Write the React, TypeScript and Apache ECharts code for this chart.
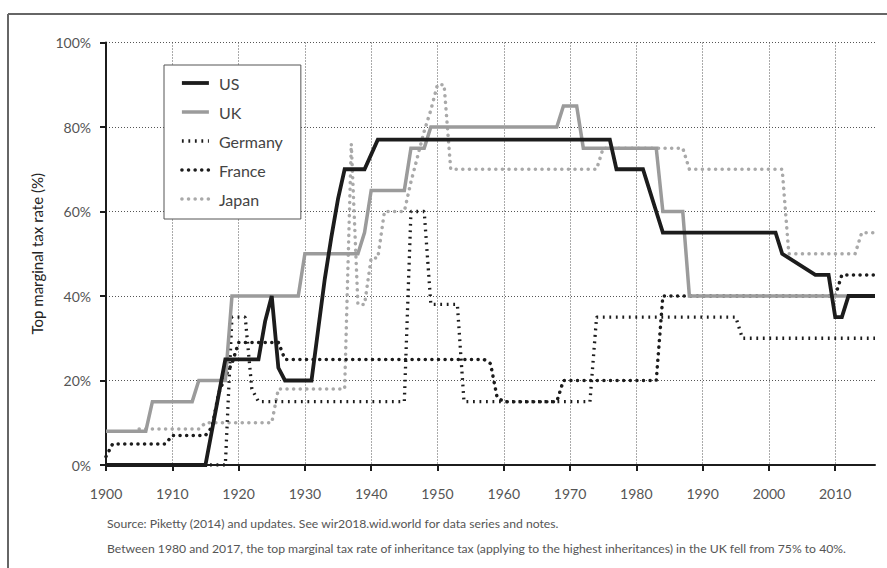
import React, { useEffect, useRef } from "react";
import * as echarts from "echarts";

// ---- Data ----
const seriesNames = ["US", "UK", "Germany", "France", "Japan"];

const usData: [number, number][] = [
  [1900, 0], [1915, 0], [1918, 25], [1923, 25], [1924, 34], [1925, 40], [1926, 23], [1927, 20],
  [1931, 20], [1932, 32], [1933, 44], [1934, 54], [1935, 63], [1936, 70], [1939, 70], [1941, 77],
  [1976, 77], [1977, 70], [1981, 70], [1982, 65], [1983, 60], [1984, 55], [2001, 55], [2002, 50],
  [2007, 45], [2009, 45], [2010, 35], [2011, 35], [2012, 40], [2016, 40],
];

const ukData: [number, number][] = [
  [1900, 8], [1906, 8], [1907, 15], [1913, 15], [1914, 20], [1918, 20], [1919, 40], [1929, 40],
  [1930, 50], [1938, 50], [1939, 55], [1940, 65], [1945, 65], [1946, 75], [1948, 75], [1949, 80],
  [1968, 80], [1969, 85], [1971, 85], [1972, 75], [1983, 75], [1984, 60], [1987, 60], [1988, 40],
  [2016, 40],
];

const germanyData: [number, number][] = [
  [1900, 0], [1918, 0], [1919, 35], [1921, 35], [1922, 18], [1923, 15], [1945, 15], [1946, 60],
  [1948, 60], [1949, 38], [1953, 38], [1954, 15], [1973, 15], [1974, 35], [1995, 35], [1996, 30],
  [2016, 30],
];

const franceData: [number, number][] = [
  [1900, 2], [1901, 5], [1909, 5], [1910, 7], [1915, 7], [1916, 9], [1917, 17], [1918, 21],
  [1919, 24], [1920, 29], [1926, 29], [1927, 25], [1957, 25], [1958, 24], [1959, 16], [1960, 15],
  [1968, 15], [1969, 20], [1983, 20], [1984, 40], [2010, 40], [2011, 45], [2016, 45],
];

const japanData: [number, number][] = [
  [1905, 8.5], [1914, 8.5], [1915, 10], [1925, 10], [1926, 18], [1936, 18], [1937, 76], [1938, 38],
  [1939, 38], [1940, 49], [1941, 49], [1942, 60], [1945, 60], [1946, 67], [1947, 73], [1948, 79],
  [1949, 84], [1950, 90], [1951, 90], [1952, 70], [1974, 70], [1975, 75], [1987, 75], [1988, 70],
  [2002, 70], [2003, 50], [2013, 50], [2014, 55], [2016, 55],
];

const xTickValues = [1900, 1910, 1920, 1930, 1940, 1950, 1960, 1970, 1980, 1990, 2000, 2010];
const yAxisTitle = "Top marginal tax rate (%)";
const sourceLine1 = "Source: Piketty (2014) and updates. See wir2018.wid.world for data series and notes.";
const sourceLine2 =
  "Between 1980 and 2017, the top marginal tax rate of inheritance tax (applying to the highest inheritances) in the UK fell from 75% to 40%.";

const FONT = "Lato, 'Open Sans', sans-serif";
const BLACK = "#1c1c1c";
const GRAY = "#9b9b9b";
const LIGHTGRAY = "#a9a9a9";

export default function App() {
  const ref = useRef<HTMLDivElement>(null);

  useEffect(() => {
    if (!ref.current) return;
    const chart = echarts.init(ref.current, null, { renderer: "svg" });

    const dotted = { type: [0.1, 6.5], cap: "round", join: "round", width: 3.5 };

    const option: any = {
      animation: false,
      backgroundColor: "#fff",
      textStyle: { fontFamily: FONT },
      grid: { left: 106, right: 12, top: 42.5, bottom: 103, containLabel: false },
      legend: {
        data: seriesNames,
        orient: "vertical",
        left: 164,
        top: 65,
        padding: [10, 18, 12, 16],
        itemWidth: 27,
        itemHeight: 14,
        itemGap: 13,
        borderColor: "#555",
        borderWidth: 1,
        backgroundColor: "#fff",
        lineStyle: { width: "inherit" },
        itemStyle: { color: "transparent", borderWidth: 0, opacity: 0 },
        selectedMode: false,
        textStyle: { fontSize: 16, color: "#444", fontFamily: FONT, padding: [0, 0, 0, 5] },
      },
      xAxis: {
        type: "value",
        min: 1900,
        max: 2016,
        interval: 10,
        axisLine: { show: true, onZero: false, lineStyle: { color: BLACK, width: 2 } },
        axisTick: { show: true, length: 6, customValues: xTickValues, lineStyle: { color: BLACK, width: 2 } },
        axisLabel: {
          margin: 21,
          fontSize: 14,
          color: "#555",
          fontFamily: FONT,
          customValues: xTickValues,
          formatter: (v: number) => String(v),
        },
        splitLine: {
          show: true,
          lineStyle: { type: [1, 2], color: "#555", width: 1 },
        },
      },
      yAxis: {
        type: "value",
        min: 0,
        max: 100,
        interval: 20,
        name: yAxisTitle,
        nameLocation: "middle",
        nameGap: 57,
        nameTextStyle: { fontSize: 15, color: "#222", fontFamily: FONT },
        axisLine: { show: true, lineStyle: { color: BLACK, width: 2 } },
        axisTick: { show: true, length: 6, lineStyle: { color: BLACK, width: 2 } },
        axisLabel: { margin: 15, fontSize: 14, color: "#555", fontFamily: FONT, formatter: "{value}%" },
        splitLine: { show: true, lineStyle: { type: [1, 2], color: "#555", width: 1 } },
      },
      series: [
        {
          name: "Japan", type: "line", data: japanData, symbol: "none", silent: true, z: 2,
          lineStyle: { ...dotted, color: LIGHTGRAY },
          itemStyle: { color: LIGHTGRAY },
        },
        {
          name: "France", type: "line", data: franceData, symbol: "none", silent: true, z: 2,
          lineStyle: { ...dotted, color: BLACK },
          itemStyle: { color: BLACK },
        },
        {
          name: "Germany", type: "line", data: germanyData, symbol: "none", silent: true, z: 2,
          lineStyle: { type: [1.8, 4.7], cap: "butt", width: 3.3, color: BLACK },
          itemStyle: { color: BLACK },
        },
        {
          name: "UK", type: "line", data: ukData, symbol: "none", silent: true, z: 2,
          lineStyle: { width: 3.5, color: GRAY, join: "miter" },
          itemStyle: { color: GRAY },
        },
        {
          name: "US", type: "line", data: usData, symbol: "none", silent: true, z: 2,
          lineStyle: { width: 3.8, color: BLACK, join: "miter" },
          itemStyle: { color: BLACK },
        },
      ],
      graphic: [
        { type: "line", silent: true, shape: { x1: 8, y1: 14, x2: 887, y2: 14 }, style: { stroke: "#666", lineWidth: 2 } },
        { type: "line", silent: true, shape: { x1: 8, y1: 14, x2: 8, y2: 568 }, style: { stroke: "#666", lineWidth: 2 } },
        {
          type: "text", silent: true, x: 107, y: 523,
          style: { text: sourceLine1, fill: "#555", fontSize: 12.2, fontFamily: FONT, verticalAlign: "middle" },
        },
        {
          type: "text", silent: true, x: 107, y: 548,
          style: { text: sourceLine2, fill: "#555", fontSize: 12.2, fontFamily: FONT, verticalAlign: "middle" },
        },
      ],
    };

    chart.setOption(option);
    return () => chart.dispose();
  }, []);

  return (
    <div style={{ position: "fixed", left: 0, top: 0, width: 887, height: 568, background: "#fff" }}>
      <div ref={ref} style={{ width: 887, height: 568 }} />
    </div>
  );
}
